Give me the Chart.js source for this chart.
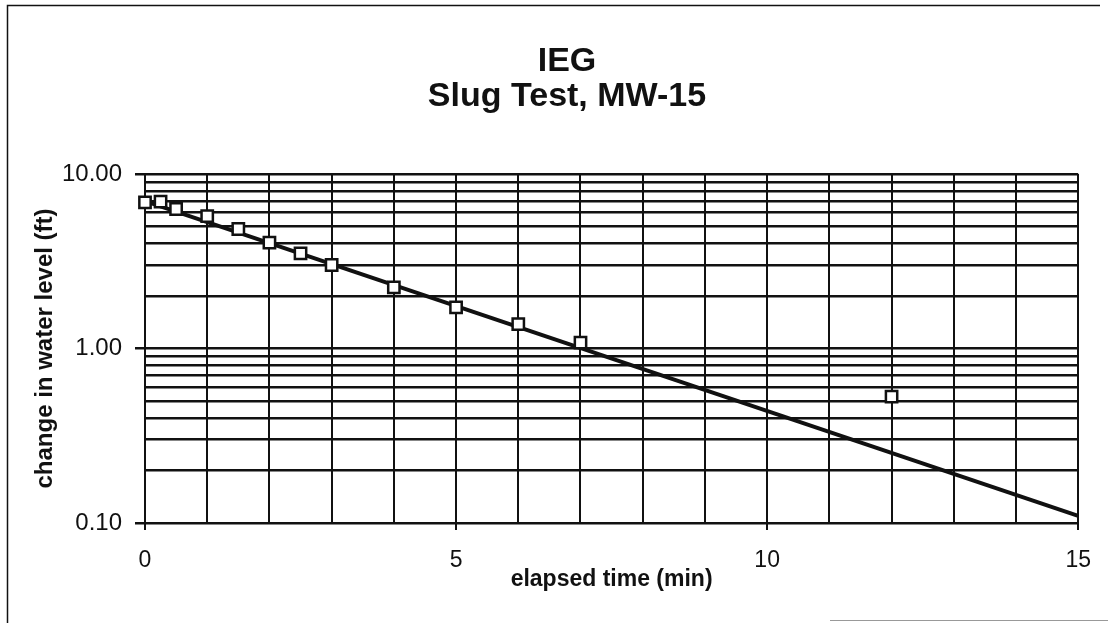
<!DOCTYPE html>
<html>
<head>
<meta charset="utf-8">
<script src="https://cdn.jsdelivr.net/npm/chart.js@4/dist/chart.umd.min.js"></script>
<style>
  html, body { margin: 0; padding: 0; background: #fff; }
  #wrap { position: relative; width: 1108px; height: 623px; }
</style>
</head>
<body>
<div id="wrap"><canvas id="c"></canvas></div>
<script>
// Measured drawdown recovery, MW-15
const elapsedMin   = [0, 0.25, 0.5, 1, 1.5, 2, 2.5, 3, 4, 5, 6, 7, 12];
const waterLevelFt = [6.88, 6.94, 6.30, 5.74, 4.84, 4.04, 3.51, 3.01, 2.24, 1.72, 1.38, 1.08, 0.53];

// Fitted exponential trend (straight on the log axis), end points
const trendMin = [0, 15];
const trendFt  = [7.0, 0.11];

// Axis grid and label values
const yGridValues  = [0.1, 0.2, 0.3, 0.4, 0.5, 0.6, 0.7, 0.8, 0.9,
                      1, 2, 3, 4, 5, 6, 7, 8, 9, 10];
const yLabelValues = [0.1, 1, 10];
const xLabelValues = [0, 5, 10, 15];

const FONT = '"Liberation Sans", Arial, Helvetica, sans-serif';
const INK = '#111';

const toPoints = (xs, ys) => xs.map((x, i) => ({ x: x, y: ys[i] }));
const isYLabel = v => yLabelValues.some(l => Math.abs(l - v) < 1e-9);
const isXLabel = v => xLabelValues.includes(v);

// Page frame behind the chart
const framePlugin = {
  id: 'frame',
  beforeDraw(chart) {
    const ctx = chart.ctx;
    ctx.save();
    ctx.fillStyle = '#fff';
    ctx.fillRect(0, 0, chart.width, chart.height);
    ctx.strokeStyle = INK;
    ctx.lineWidth = 1.5;
    ctx.beginPath();
    ctx.moveTo(7.5, chart.height);
    ctx.lineTo(7.5, 5.5);
    ctx.lineTo(1100, 5.5);
    ctx.stroke();
    ctx.strokeStyle = '#999';
    ctx.lineWidth = 1;
    ctx.beginPath();
    ctx.moveTo(830, 620.5);
    ctx.lineTo(chart.width, 620.5);
    ctx.stroke();
    ctx.restore();
  }
};

new Chart(document.getElementById('c'), {
  type: 'scatter',
  data: {
    datasets: [
      {
        label: 'measured',
        data: toPoints(elapsedMin, waterLevelFt),
        pointStyle: 'rect',
        pointRadius: 8,
        pointBorderWidth: 2.5,
        pointBackgroundColor: '#fff',
        pointBorderColor: INK,
        showLine: false,
        clip: false,
        order: 0
      },
      {
        label: 'trend',
        type: 'line',
        data: toPoints(trendMin, trendFt),
        borderColor: INK,
        borderWidth: 4,
        pointRadius: 0,
        fill: false,
        clip: false,
        order: 1
      }
    ]
  },
  plugins: [framePlugin],
  options: {
    responsive: true,
    maintainAspectRatio: false,
    animation: false,
    events: [],
    layout: { padding: { left: 52, right: 26, top: 0, bottom: 0 } },
    plugins: {
      legend: { display: false },
      tooltip: { enabled: false },
      title: {
        display: true,
        text: ['IEG', 'Slug Test, MW-15'],
        color: INK,
        font: { family: FONT, size: 34, weight: 'bold', lineHeight: '35px' },
        padding: { top: 44, bottom: 60 }
      }
    },
    scales: {
      x: {
        type: 'linear',
        min: 0,
        max: 15,
        afterFit: s => { s.height = 100; },
        afterBuildTicks: s => {
          const t = [];
          for (let v = 0; v <= 15; v++) t.push({ value: v });
          s.ticks = t;
        },
        ticks: {
          autoSkip: false,
          maxRotation: 0,
          padding: 17,
          color: INK,
          font: { family: FONT, size: 23 },
          callback: v => (isXLabel(v) ? String(v) : '')
        },
        grid: {
          color: INK,
          lineWidth: 2,
          tickLength: 7,
          tickColor: c => (c.tick && isXLabel(c.tick.value) ? INK : 'rgba(0,0,0,0)')
        },
        border: { display: true, color: INK, width: 2 },
        title: {
          display: true,
          text: 'elapsed time (min)',
          color: INK,
          font: { family: FONT, size: 23, weight: 'bold' },
          padding: { top: 0, bottom: 30 }
        }
      },
      y: {
        type: 'logarithmic',
        min: 0.1,
        max: 10,
        afterFit: s => { s.width = 93; },
        afterBuildTicks: s => { s.ticks = yGridValues.map(v => ({ value: v })); },
        ticks: {
          autoSkip: false,
          padding: 13,
          color: INK,
          font: { family: FONT, size: 24 },
          callback: v => (isYLabel(v) ? Number(v).toFixed(2) : '')
        },
        grid: {
          color: INK,
          lineWidth: 2.5,
          tickLength: 10,
          tickColor: c => (c.tick && isYLabel(c.tick.value) ? INK : 'rgba(0,0,0,0)')
        },
        border: { display: true, color: INK, width: 2 },
        title: {
          display: true,
          text: 'change in water level (ft)',
          color: INK,
          font: { family: FONT, size: 24, weight: 'bold' },
          padding: { top: -21, bottom: 0 }
        }
      }
    }
  }
});
</script>
</body>
</html>
